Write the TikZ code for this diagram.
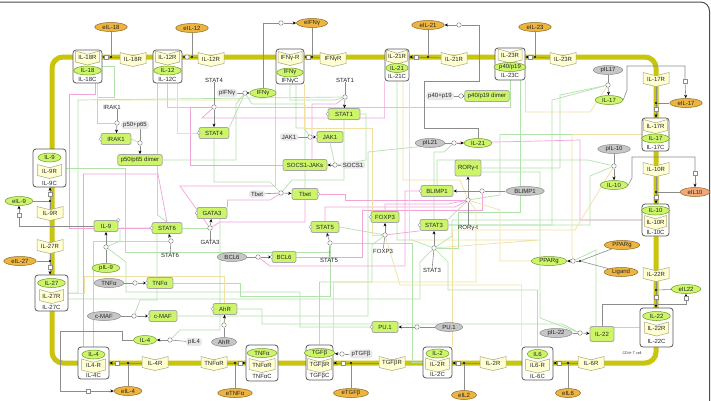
\documentclass[tikz,border=0pt]{standalone}
\usepackage{fontspec}
\setmainfont{Liberation Sans}
\usetikzlibrary{arrows.meta,calc,shapes.geometric}
\pgfdeclarelayer{bg}
\pgfsetlayers{bg,main}
\definecolor{mem}{HTML}{C9C50C}
\definecolor{recf}{HTML}{FFFFD2}
\definecolor{recd}{HTML}{A8A47A}
\definecolor{gfill}{HTML}{CCF56A}
\definecolor{gdraw}{HTML}{6E9A2A}
\definecolor{ofill}{HTML}{EDB440}
\definecolor{odraw}{HTML}{8A6A20}
\definecolor{pfill}{HTML}{F2A878}
\definecolor{grfill}{HTML}{C6C6C6}
\definecolor{grdraw}{HTML}{8A8A8A}
\definecolor{eg}{HTML}{B2E2AC}
\definecolor{ep}{HTML}{F2A4DA}
\definecolor{ey}{HTML}{F0E0A4}
\definecolor{conn}{HTML}{8C8C8C}
\tikzset{
 base/.style={font=\fontsize{6}{7}\selectfont, inner sep=0pt, text=black!85},
 gell/.style={base, ellipse, draw=gdraw, fill=gfill, minimum height=9pt, inner xsep=3pt, line width=0.5pt},
 oell/.style={gell, draw=odraw, fill=ofill},
 pell/.style={gell, draw=odraw, fill=pfill},
 grell/.style={gell, draw=grdraw, fill=grfill},
 prot/.style={base, rectangle, rounded corners=2pt, draw=gray!70, line width=0.8pt, fill=gfill, minimum height=11pt, inner xsep=3pt},
 cbox/.style={draw=black!65, fill=white, rounded corners=3pt, line width=0.8pt},
 glbl/.style={base, fill=gray!18, rounded corners=3pt, inner xsep=2pt, inner ysep=1.5pt},
 pc/.style={circle, draw=conn, fill=white, minimum size=4.5pt, inner sep=0pt, line width=0.5pt},
 sqn/.style={rectangle, draw=conn, fill=white, minimum size=4pt, inner sep=0pt, line width=0.5pt},
 dotn/.style={circle, fill=black, minimum size=2.4pt, inner sep=0pt},
 stv/.style={circle, draw=gray!80, fill=white, minimum size=3.6pt, inner sep=0pt, line width=0.4pt},
 cn/.style={draw=conn, line width=0.6pt},
 arr/.style={cn, -{Stealth[length=3.5pt,width=3pt,color=black]}},
 ge/.style={draw=eg, line width=0.7pt},
 pe/.style={draw=ep, line width=0.7pt},
 ye/.style={draw=ey, line width=0.7pt},
}
\newcommand\rcpt[4][13]{%
 \coordinate (#2-c) at (#3);
 \draw[draw=recd, fill=recf, line width=0.5pt] ($(#2-c)+(-#1,-6.5)$) -- ($(#2-c)+(0,-3.2)$) -- ($(#2-c)+(#1,-6.5)$) -- ($(#2-c)+(#1,4.5)$) -- ($(#2-c)+(0,7.5)$) -- ($(#2-c)+(-#1,4.5)$) -- cycle;
 \node[base] (#2) at (#2-c) {#4};}
\newcommand\prt[5][west]{%
 \node[prot, minimum width=#4pt] (#2) at (#3) {#5};
 \node[stv] at (#2.#1) {};}
\begin{document}
\begin{tikzpicture}[x=1pt,y=-1pt]
\useasboundingbox (0,0) rectangle (711,400);
\begin{pgfonlayer}{bg}
\fill[white] (0,0) rectangle (711,400);
\draw[mem, line width=5pt, rounded corners=11pt] (52,57) rectangle (656,363);
\end{pgfonlayer}
\draw[black!70, line width=1pt, rounded corners=9pt] (-5,2) -- (709.5,2) -- (709.5,410);

% ---------- IL-18
\node[oell] (eil18) at (111,27) {eIL-18};
\node[cbox, minimum width=29pt, minimum height=33pt] (il18c) at (87.5,66.5) {};
\rcpt[12]{il18rin}{87.5,57.5}{IL-18R}
\node[gell] (il18in) at (87.5,70.5) {IL-18};
\node[base] (il18cl) at (87.5,79.5) {IL-18C};
\rcpt{il18r}{133,59}{IL-18R}
\node[dotn] (d18) at (111,57) {};
\node[sqn] (s18) at (106,57) {};
% ---------- IL-12
\node[oell] (eil12) at (192,28) {eIL-12};
\node[cbox, minimum width=29pt, minimum height=33pt] (il12c) at (167.5,66.5) {};
\rcpt[12]{il12rin}{167.5,57.5}{IL-12R}
\node[gell] (il12in) at (167.5,70.5) {IL-12};
\node[base] (il12cl) at (167.5,79.5) {IL-12C};
\rcpt{il12r}{211,59}{IL-12R}
\node[dotn] (d12) at (192,57) {};
\node[pc] (s12) at (187,57) {};
% ---------- IFNg
\node[oell] (eifng) at (312,23) {eIFNγ};
\node[cbox, minimum width=28pt, minimum height=35pt] (ifngc) at (290,66.5) {};
\rcpt[12]{ifngrin}{290,58}{IFNγ-R}
\node[gell] (ifngin) at (290,72.5) {IFNγ};
\node[base] (ifngcl) at (290,81) {IFNγC};
\rcpt{ifngr}{333,59}{IFNγR}
\node[dotn] (dg) at (312,57) {};
\node[sqn] (sg) at (308,57) {};
% ---------- IL-21
\node[oell] (eil21) at (428,25) {eIL-21};
\node[cbox, minimum width=24pt, minimum height=32pt] (il21c) at (397,65) {};
\rcpt[10.5]{il21rin}{397,56.5}{IL-21R}
\node[gell, inner xsep=1pt] (il21in) at (397,68) {IL-21};
\node[base] (il21cl) at (397,76.5) {IL-21C};
\rcpt{il21r}{454,59}{IL-21R}
\node[dotn] (d21) at (428,57) {};
\node[sqn] (s21) at (416,57) {};
% ---------- IL-23
\node[oell] (eil23) at (535,27) {eIL-23};
\node[cbox, minimum width=30pt, minimum height=32pt] (il23c) at (510,64) {};
\rcpt[12]{il23rin}{510,55.5}{IL-23R}
\node[gell, inner xsep=0.5pt] (p40in) at (510,67) {p40/p19};
\node[base] (il23cl) at (510,75.5) {IL-23C};
\rcpt{il23r}{563,59}{IL-23R}
\node[dotn] (d23) at (535,57) {};
\node[sqn] (s23) at (530,57) {};
% ---------- IL-17
\rcpt{il17r}{656,79}{IL-17R}
\node[oell] (eil17) at (686,103) {eIL-17};
\node[dotn] (d17) at (656,103) {};
\node[sqn] (s17) at (656,109.5) {};
\node[cbox, minimum width=27pt, minimum height=33pt] (il17c) at (655.5,134.5) {};
\rcpt[12]{il17rin}{655.5,126}{IL-17R}
\node[gell] (il17in) at (655.5,138.5) {IL-17};
\node[base] (il17cl) at (655.5,147.5) {IL-17C};
\node[grell] (pil17) at (608,70) {pIL17};
\node[pc] (c17) at (608,85) {};
\node[gell] (il17) at (609,100) {IL-17};
\node[sqn] (s17b) at (685,81) {};
% ---------- IL-10
\rcpt{il10r}{656,169}{IL-10R}
\node[pell] (eil10) at (695,192) {eIL10};
\node[dotn] (d10) at (656,192) {};
\node[sqn] (s10) at (656,197.5) {};
\node[cbox, minimum width=27pt, minimum height=32pt] (il10c) at (655.5,220) {};
\node[gell] (il10in) at (655.5,210.5) {IL-10};
\rcpt[11]{il10rin}{655.5,222}{IL-10R}
\node[base] (il10cl) at (655.5,232.5) {IL-10C};
\node[grell] (pil10) at (614,149) {pIL-10};
\node[pc] (c10) at (614,166) {};
\node[gell] (il10) at (614,185) {IL-10};
\node[sqn] (s10b) at (695,173) {};
% ---------- IL-22
\rcpt{il22r}{656,274}{IL-22R}
\node[gell] (eil22) at (686,289) {eIL22};
\node[dotn] (d22) at (656,290) {};
\node[sqn] (s22) at (656,297) {};
\node[cbox, minimum width=33pt, minimum height=39pt] (il22c) at (656.5,327.5) {};
\node[gell] (il22in) at (656.5,316) {IL-22};
\rcpt[12]{il22rin}{656.5,328.5}{IL-22R}
\node[base] (il22cl) at (656.5,341) {IL-22C};
\node[prot, minimum width=24pt, minimum height=15pt] (il22p) at (602,334) {IL-22};
\node[grell] (pil22) at (556,333) {pIL-22};
\node[pc] (c22) at (580,333) {};
\node[sqn] (s22b) at (686,298) {};
\node[base, font=\fontsize{3.6}{4}\selectfont] (cd4) at (632,353) {CD4+ T cell};
% ---------- IL-6
\rcpt{il6r}{591,363}{IL-6R}
\node[oell] (eil6) at (568,393) {eIL6};
\node[dotn] (d6) at (568,363) {};
\node[sqn] (s6) at (559,363) {};
\node[cbox, minimum width=31pt, minimum height=33pt] (il6c) at (537.5,363.5) {};
\node[gell] (il6in) at (537.5,354) {IL6};
\rcpt[12]{il6rin}{537.5,365.5}{IL6-R}
\node[base] (il6cl) at (537.5,376.5) {IL-6C};
% ---------- IL-2
\rcpt{il2r}{493,363}{IL-2R}
\node[oell] (eil2) at (464,395) {eIL2};
\node[dotn] (d2) at (464,363) {};
\node[sqn] (s2) at (458,363) {};
\node[cbox, minimum width=29pt, minimum height=31pt] (il2c) at (437.5,362.5) {};
\node[gell] (il2in) at (437.5,353.5) {IL-2};
\rcpt[12]{il2rin}{437.5,364.5}{IL-2R}
\node[base] (il2cl) at (437.5,374) {IL-2C};
% ---------- TGFb
\rcpt{tgfbr}{392,363}{TGFβR}
\node[oell] (etgfb) at (351,393) {eTGFβ};
\node[dotn] (dt) at (351,363) {};
\node[sqn] (st) at (343,363) {};
\node[cbox, minimum width=27pt, minimum height=35pt] (tgfbc) at (319.5,362.5) {};
\node[gell] (tgfbin) at (319.5,353) {TGFβ};
\rcpt[12]{tgfbrin}{319.5,365}{TGFβR}
\node[base] (tgfbcl) at (319.5,376) {TGFβC};
\node[glbl] (ptgfb) at (361,354) {pTGFβ};
\node[pc] (ctg) at (342,354) {};
% ---------- TNFa
\rcpt{tnfar}{214,363}{TNFαR}
\node[oell] (etnfa) at (235,393) {eTNFα};
\node[dotn] (dtn) at (235,363) {};
\node[sqn] (stn) at (240.5,363) {};
\node[cbox, minimum width=32pt, minimum height=36pt] (tnfac) at (262,363) {};
\node[gell] (tnfain) at (262,353) {TNFα};
\rcpt[13]{tnfarin}{262,365}{TNFαR}
\node[base] (tnfacl) at (262,376.5) {TNFαC};
% ---------- IL-4
\rcpt{il4r}{155,363}{IL-4R}
\node[oell] (eil4) at (128,391) {eIL-4};
\node[dotn] (d4) at (128,363) {};
\node[sqn] (s4) at (117,363) {};
\node[cbox, minimum width=31pt, minimum height=32pt] (il4c) at (93.5,363) {};
\node[gell] (il4in) at (93.5,354.5) {IL-4};
\rcpt[12]{il4rin}{93.5,365.5}{IL4-R}
\node[base] (il4cl) at (93.5,375.5) {IL-4C};
\node[gell] (il4) at (145,340) {IL-4};
\node[pc] (c4) at (170,340) {};
\node[glbl] (pil4) at (194,342) {pIL4};
\node[sqn] (s4b) at (88,391) {};
% ---------- IL-27
\rcpt{il27r}{50,246}{IL-27R}
\node[oell] (eil27) at (20,261) {eIL-27};
\node[dotn] (d27) at (50,261) {};
\node[sqn] (s27) at (50,267) {};
\node[cbox, minimum width=33pt, minimum height=36pt] (il27c) at (51.5,293) {};
\node[gell] (il27in) at (51.5,283) {IL-27};
\rcpt[12]{il27rin}{51.5,296}{IL-27R}
\node[base] (il27cl) at (51.5,307) {IL-27C};
% ---------- IL-9
\rcpt{il9r}{50,213}{IL-9R}
\node[gell] (eil9) at (19,201) {eIL-9};
\node[dotn] (d9) at (50,201) {};
\node[sqn] (s9) at (50,194) {};
\node[cbox, minimum width=33pt, minimum height=38pt] (il9c) at (49.5,168) {};
\node[gell] (il9in) at (49.5,157.5) {IL-9};
\rcpt[12]{il9rin}{49.5,171}{IL-9R}
\node[base] (il9cl) at (49.5,183) {IL-9C};
\prt[north east]{il9p}{106,226}{24}{IL-9}
\node[gell] (pil9) at (106,268) {pIL-9};
\node[pc] (c9) at (106,247) {};
\node[sqn] (s9b) at (19,215) {};
% ---------- intracellular
\node[base] (irakl) at (112,107) {IRAK1};
\node[pc] (cirak) at (117,123) {};
\prt{irak1}{116,139}{30}{IRAK1}
\node[glbl] (p50l) at (135,125) {p50+p65};
\node[pc] (cp50) at (140,143) {};
\node[prot, minimum width=44pt] (p50d) at (140,160) {p50/p65 dimer};
\node[base] (stat4l) at (214,80) {STAT4};
\node[pc] (cstat4) at (214,107) {};
\prt{stat4}{214,133}{30}{STAT4}
\node[base] (stat1l) at (345,80) {STAT1};
\node[pc] (cstat1) at (345,97) {};
\prt{stat1}{344,114}{32}{STAT1}
\node[glbl] (pifngl) at (227,93) {pIFNγ};
\node[pc] (cifn) at (245,93) {};
\node[gell] (ifng) at (263,93) {IFNγ};
\node[pc] (cifn2) at (281,23) {};
\node[glbl] (jak1l) at (289,137) {JAK1};
\node[pc] (cjak) at (310,137) {};
\prt{jak1}{330,137}{26}{JAK1}
\node[prot, minimum width=44pt] (socsj) at (305,165) {SOCS1-JAKs};
\node[glbl] (socsl) at (353,165) {SOCS1};
\node[pc] (csocs) at (335,165) {};
\node[glbl] (tbetl) at (257,194) {Tbet};
\node[pc] (ctbet) at (281,193) {};
\prt[east]{tbet}{305,194}{26}{Tbet}
\prt{gata3}{212,213}{30}{GATA3}
\node[pc] (cgata) at (210,228) {};
\node[base] (gatal) at (210,242) {GATA3};
\prt{stat6}{167,228}{30}{STAT6}
\node[pc] (cstat6) at (171,241) {};
\node[base] (stat6l) at (170,255) {STAT6};
\prt{stat5}{325,227}{28}{STAT5}
\node[pc] (cstat5) at (330,243) {};
\node[base] (stat5l) at (329,260) {STAT5};
\node[grell] (bcl6g) at (232,257) {BCL6};
\node[pc] (cbcl) at (258,257) {};
\prt{bcl6}{284,257}{24}{BCL6}
\prt{foxp3}{385,217}{28}{FOXP3}
\node[pc] (cfox) at (385,235) {};
\node[base] (foxl) at (383,251) {FOXP3};
\prt{stat3}{434,225}{28}{STAT3}
\node[pc] (cstat3) at (434,248) {};
\node[base] (stat3l) at (432,270) {STAT3};
\node[prot, minimum width=24pt, minimum height=16pt] (ror) at (468,168) {RORγ-t};
\node[pc] (cror) at (468,200) {};
\node[base] (rorl) at (468,228) {RORγ-t};
\prt{blimp1}{437,191}{32}{BLIMP1}
\node[pc] (cblimp) at (482,191) {};
\node[grell] (blimpg) at (525,191) {BLIMP1};
\node[grell] (pil21) at (430,143) {pIL21};
\node[pc] (cil21) at (454,143) {};
\node[gell] (il21) at (478,143) {IL-21};
\node[pc] (c21b) at (459,25) {};
\node[glbl] (p40l) at (440,96) {p40+p19};
\node[pc] (cp40) at (461,96) {};
\node[prot, minimum width=42pt] (p40d) at (487,96) {p40/p19 dimer};
\node[gell] (ppg) at (549,261) {PPARg};
\node[pc] (cppar) at (573,261) {};
\node[dotn] (dppar) at (580,261) {};
\node[oell] (ppo) at (622,245) {PPARg};
\node[oell] (lig) at (621,272) {Ligand};
\node[grell] (tnfg) at (109,283) {TNFα};
\node[pc] (ctnf) at (135,283) {};
\prt{tnfap}{160,283}{26}{TNFα}
\node[grell] (cmafg) at (104,316) {c-MAF};
\node[pc] (cmafc) at (134,316) {};
\prt{cmafp}{163,316}{28}{c-MAF}
\prt{ahrp}{225,309}{24}{AhR}
\node[pc] (cahr) at (224,325) {};
\node[grell] (ahrg) at (224,342) {AhR};
\prt{pu1p}{385,327}{26}{PU.1}
\node[pc] (cpu) at (417,327) {};
\node[grell] (pu1g) at (449,327) {PU.1};

% ---------- coloured regulation edges
\begin{pgfonlayer}{bg}
% green
\draw[ge] (il18c.east) -- (114,66.5) -- (114,97) -- (97,97) |- (cirak);
\draw[ge] (irak1.east) -- (cp50);
\draw[ge] (il12c.south) |- (cstat4);
\draw[ge] (il23c.south) |- (cstat4);
\draw[ge] (ifngc.south) |- (335,100) -- (cstat1);
\draw[ge] ($(ifngc.south)+(6,0)$) |- (304,128) -- (cjak);
\draw[ge] (il27c.east) -| (78,100) -- (cstat1);
\draw[ge] ($(il27c.east)+(0,6)$) -- (420,299) -- (420,262) -- (cstat3);
\draw[ge] (il6c.north) |- (448,290) -- (448,262) -- (cstat3);
\draw[ge] (il21c.south) |- (412,240) -- (cstat3);
\draw[ge] (il10c.west) -| (452,236) -- (cstat3);
\draw[ge] ($(il23c.south)+(10,0)$) |- (458,212) |- (cstat3);
\draw[ge] (il2c.west) -| (412,243) -- (cstat5);
\draw[ge] (il4c.north) |- (cstat6);
\draw[ge] (stat1.south) |- (292,180) -- (ctbet);
\draw[ge] (stat4.south) |- (270,182) -- (ctbet);
\draw[ge] (tbet.north) |- (252,104) -- (cifn);
\draw[ge] (stat4.north east) -- (cifn);
\draw[ge] (p50d.east) -| (236,104) -- (cifn);
\draw[ge] (stat6.east) -- (cgata);
\draw[ge] ($(gata3.south)+(8,0)$) |- (180,330) -- (c4);
\draw[ge] ($(stat6.south)+(-10,0)$) |- (140,300) -- (cmafc);
\draw[ge] (stat3.north east) -- (cror);
\draw[ge] (tgfbc.north) |- (372,282) -- (372,245) -- (cfox);
\draw[ge] (stat5.east) -- (cfox);
\draw[ge] (ror.east) -| (560,95) -- (c17);
\draw[ge] (stat3.east) -| (552,100) -- (c17);
\draw[ge] ($(ror.east)+(0,4)$) -| (540,318) -- (c22);
\draw[ge] (ahrp.east) -- (262,309) |- (562,324) -- (c22);
\draw[ge] (stat3.east) -| (590,176) -- (c10);
\draw[ge] (blimp1.north) |- (588,160) -- (c10);
\draw[ge] (cmafp.east) -| (368,152) -- (cil21);
\draw[ge] (stat3.north) |- (444,152) -- (cil21);
\draw[ge] (pu1p.west) -| (300,292) -| (126,262) -- (c9);
\draw[ge] (stat6.west) -| (120,241) -- (c9);
\draw[ge] (stat1.east) -| (366,160) -- (csocs);
\draw[ge] (jak1.south) -- (csocs);
\draw[ge] (il9c.east) -| (125,252) -| (cstat5);
\draw[ge] (tnfap.east) -| (240,296) -| (cstat5);
\draw[ge] (il22c.west) -| (596,250) -- (cppar);
\draw[ge] (il17c.west) -| (500,195) -- (cror);
\draw[ge] ($(il12c.south)+(-10,0)$) -- (157.5,215) -- (stat6.north);
% pink
\draw[pe] (gata3.north east) |- (270,200) -- (ctbet);
\draw[pe] (tbet.south) |- (220,222) -- (cgata);
\draw[pe] (foxp3.north) |- (448,204) -- (cror);
\draw[pe] (socsj.west) -| (190,107) -- (cstat4);
\draw[pe] ($(socsj.north)+(7,0)$) |- (336,104) -- (cstat1);
\draw[pe] (bcl6.east) -| (362,210) -| (cblimp);
\draw[pe] (blimp1.west) -| (405,266) -- (270,266) -- (cbcl);
\draw[pe] (stat3.south west) -- (cfox);
\draw[pe] (tbet.east) -| (345,200) -- (cror);
\draw[pe] (stat5.north) |- (455,207) -- (cror);
\draw[pe] ($(il18c.south)+(8,0)$) -- (95.5,94) -- (69,94) |- (stat6.west);
\draw[pe] ($(il4c.north)+(-10,0)$) |- (158,174) -- (stat6.north);
\draw[pe] (il10c.west) -| (580,140) -- (cil21);
\draw[pe] (ifngc.south west) |- (180,186) -- (cgata);
\draw[pe] (il21c.south west) |- (202,118) -- (cstat4);
% yellow
\draw[ye] ($(il12c.south)+(10,0)$) |- (stat4.west);
\draw[ye] ($(il18c.south)+(10,0)$) |- (238,100) -- (cifn);
\draw[ye] (il23c.south east) |- (590,112) -- (c17);
\draw[ye] (il21c.south east) |- (540,240) -- (cstat3);
\draw[ye] (il17c.west) -| (572,254) -- (cppar);
\draw[ye] (ppg.west) -| (500,210) -- (cror);
\draw[ye] (il6c.north west) |- (400,285) -- (cfox);
\draw[ye] (tgfbc.north east) |- (476,282) -- (476,210) -- (cror);
\draw[ye] (il27c.east) -| (84,276) -| (cahr);
\draw[ye] (il2c.north east) |- (575,230) -- (c10);
\draw[ye] (ifngc.south east) |- (372,128) |- (cfox);
\draw[ye] ($(il21c.south)+(6,0)$) |- (460,180) -- (cror);

% ---------- grey connectors
\draw[cn] (eil18) -- (d18); \draw[cn] (il18r-c) -- (d18); \draw[cn] (d18) -- (s18);
\draw[arr] (s18) -- (s18 -| il18c.east);
\draw[cn] (eil12) -- (d12); \draw[cn] (il12r-c) -- (d12); \draw[cn] (d12) -- (s12);
\draw[arr] (s12) -- (s12 -| il12c.east);
\draw[cn] (eifng) -- (dg); \draw[cn] (ifngr-c) -- (dg); \draw[cn] (dg) -- (sg);
\draw[arr] (sg) -- (sg -| ifngc.east);
\draw[cn] (eil21) -- (d21); \draw[cn] (il21r-c) -- (d21); \draw[cn] (d21) -- (s21);
\draw[arr] (s21) -- (s21 -| il21c.east);
\draw[cn] (eil23) -- (d23); \draw[cn] (il23r-c) -- (d23); \draw[cn] (d23) -- (s23);
\draw[arr] (s23) -- (s23 -| il23c.east);
\draw[cn] (eil17) -- (d17); \draw[cn] (il17r-c) -- (d17); \draw[cn] (d17) -- (s17);
\draw[arr] (s17) -- (s17 |- il17c.north);
\draw[cn] (il17.east) -- (627,90) -- (627,66) -| (s17b);
\draw[arr] (s17b) -- (eil17);
\draw[cn] (pil17) -- (c17); \draw[arr] (c17) -- (il17);
\draw[cn] (eil10) -- (d10); \draw[cn] (il10r-c) -- (d10); \draw[cn] (d10) -- (s10);
\draw[arr] (s10) -- (s10 |- il10c.north);
\draw[cn] (il10.east) -- (632,178) -- (632,157) -| (s10b);
\draw[arr] (s10b) -- (eil10);
\draw[cn] (pil10) -- (c10); \draw[arr] (c10) -- (il10);
\draw[cn] (eil22) -- (d22); \draw[cn] (il22r-c) -- (d22); \draw[cn] (d22) -- (s22);
\draw[arr] (s22) -- (s22 |- il22c.north);
\draw[cn] (il22p.north) -- (602,304) -| (s22b);
\draw[arr] (s22b) -- (eil22);
\draw[cn] (pil22) -- (c22); \draw[arr] (c22) -- (il22p);
\draw[cn] (eil6) -- (d6); \draw[cn] (il6r-c) -- (d6); \draw[cn] (d6) -- (s6);
\draw[arr] (s6) -- (s6 -| il6c.east);
\draw[cn] (eil2) -- (d2); \draw[cn] (il2r-c) -- (d2); \draw[cn] (d2) -- (s2);
\draw[arr] (s2) -- (s2 -| il2c.east);
\draw[cn] (etgfb) -- (dt); \draw[cn] (tgfbr-c) -- (dt); \draw[cn] (dt) -- (st);
\draw[arr] (st) -- (st -| tgfbc.east);
\draw[cn] (ptgfb) -- (ctg); \draw[arr] (ctg) -- (tgfbin);
\draw[cn] (etnfa) -- (dtn); \draw[cn] (tnfar-c) -- (dtn); \draw[cn] (dtn) -- (stn);
\draw[arr] (stn) -- (stn -| tnfac.west);
\draw[cn] (eil4) -- (d4); \draw[cn] (il4r-c) -- (d4); \draw[cn] (d4) -- (s4);
\draw[arr] (s4) -- (s4 -| il4c.east);
\draw[cn] (il4.west) -| (122,331) -| (60,391) -- (s4b);
\draw[arr] (s4b) -- (eil4);
\draw[cn] (pil4) -- (c4); \draw[arr] (c4) -- (il4);
\draw[cn] (eil27) -- (d27); \draw[cn] (il27r-c) -- (d27); \draw[cn] (d27) -- (s27);
\draw[arr] (s27) -- (s27 |- il27c.north);
\draw[cn] (eil9) -- (d9); \draw[cn] (il9r-c) -- (d9); \draw[cn] (d9) -- (s9);
\draw[arr] (s9) -- (s9 |- il9c.south);
\draw[cn] (il9p.west) -| (s9b);
\draw[arr] (s9b) -- (eil9);
\draw[cn] (pil9) -- (c9); \draw[arr] (c9) -- (il9p);
\draw[cn] (ifng.north) |- (cifn2); \draw[arr] (cifn2) -- (eifng);
\draw[cn] (pifngl) -- (cifn); \draw[arr] (cifn) -- (ifng);
\draw[cn] (il21.north) |- (424,128) |- (479,81) |- (c21b); \draw[arr] (c21b) -- (eil21);
\draw[cn] (irakl.south -| cirak) -- (cirak); \draw[arr] (cirak) -- (irak1);
\draw[cn] (p50l.south -| cp50) -- (cp50); \draw[arr] (cp50) -- (p50d);
\draw[cn] (stat4l) -- (cstat4); \draw[arr] (cstat4) -- (stat4);
\draw[cn] (stat1l) -- (cstat1); \draw[arr] (cstat1) -- (stat1);
\draw[cn] (jak1l) -- (cjak); \draw[arr] (cjak) -- (jak1);
\draw[cn] (socsl) -- (csocs); \draw[arr] (csocs) -- (socsj);
\draw[cn] (tbetl) -- (ctbet); \draw[arr] (ctbet) -- (tbet);
\draw[cn] (gatal) -- (cgata); \draw[arr] (cgata) -- (gata3);
\draw[cn] (stat6l) -- (cstat6); \draw[arr] (cstat6) -- (stat6);
\draw[cn] (stat5l) -- (cstat5); \draw[arr] (cstat5) -- (stat5);
\draw[cn] (bcl6g) -- (cbcl); \draw[arr] (cbcl) -- (bcl6);
\draw[cn] (foxl) -- (cfox); \draw[arr] (cfox) -- (foxp3);
\draw[cn] (stat3l) -- (cstat3); \draw[arr] (cstat3) -- (stat3);
\draw[cn] (rorl) -- (cror); \draw[arr] (cror) -- (ror);
\draw[cn] (blimpg) -- (cblimp); \draw[arr] (cblimp) -- (blimp1);
\draw[cn] (pil21) -- (cil21); \draw[arr] (cil21) -- (il21);
\draw[cn] (p40l) -- (cp40); \draw[arr] (cp40) -- (p40d);
\draw[cn] (ppo) -- (dppar); \draw[cn] (lig) -- (dppar); \draw[cn] (dppar) -- (cppar);
\draw[arr] (cppar) -- (ppg);
\draw[cn] (tnfg) -- (ctnf); \draw[arr] (ctnf) -- (tnfap);
\draw[cn] (cmafg) -- (cmafc); \draw[arr] (cmafc) -- (cmafp);
\draw[cn] (ahrg) -- (cahr); \draw[arr] (cahr) -- (ahrp);
\draw[cn] (pu1g) -- (cpu); \draw[arr] (cpu) -- (pu1p);
\end{pgfonlayer}
\end{tikzpicture}
\end{document}
